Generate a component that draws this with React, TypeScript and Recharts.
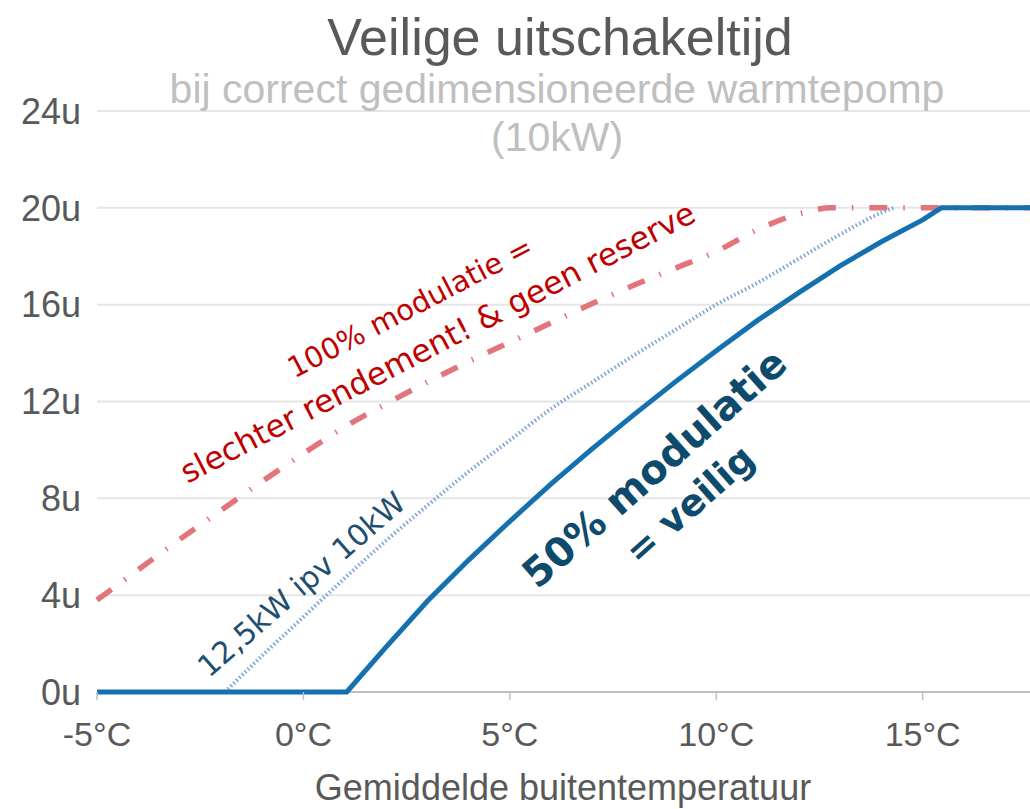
import React from 'react';
import { LineChart, Line, XAxis, YAxis, CartesianGrid, ReferenceDot } from 'recharts';

// 50% modulatie (veilig) – solid blue
const safeTemps = [-5, 1.05, 2, 3, 4, 5, 6, 7, 8, 9, 10, 11, 12, 13, 14, 15, 15.45, 17.6];
const safeHours = [0, 0, 1.85, 3.75, 5.45, 7.05, 8.6, 10.05, 11.45, 12.8, 14.1, 15.35, 16.5, 17.6, 18.6, 19.5, 20, 20];

// 100% modulatie – red dash-dot
const fullTemps = [-5, -4, -3, -2, -1, 0, 1, 2, 3, 4, 5, 6, 7, 8, 9, 10, 11, 12, 12.8, 17.6];
const fullHours = [3.8, 5.05, 6.3, 7.5, 8.7, 9.85, 10.95, 11.9, 12.8, 13.65, 14.45, 15.25, 16.05, 16.8, 17.5, 18.2, 19.1, 19.75, 20, 20];

// 12,5kW ipv 10kW – dotted light blue
const overTemps = [-1.9, -1, 0, 1, 2, 3, 4, 5, 6, 7, 8, 9, 10, 11, 12, 13, 14, 14.3];
const overHours = [0, 1.5, 3.1, 4.7, 6.25, 7.7, 9.1, 10.4, 11.7, 12.8, 13.9, 14.95, 16.0, 16.9, 17.9, 18.9, 19.8, 20];

// x-axis baseline (drawn beneath the series)
const baseTemps = [-5, 17.6];
const baseHours = [0, 0];

const xTicks = [-5, 0, 5, 10, 15];
const yTicks = [0, 4, 8, 12, 16, 20, 24];

const titleText = 'Veilige uitschakeltijd';
const subtitleLines = ['bij correct gedimensioneerde warmtepomp', '(10kW)'];
const xAxisTitle = 'Gemiddelde buitentemperatuur';

type Note = { text: string; x: number; y: number; angle: number; kind: 'red' | 'blue' | 'bold'; size: number };
const notes: Note[] = [
  { text: '100% modulatie =', x: 2.58, y: 15.9, angle: -27.5, kind: 'red', size: 29 },
  { text: 'slechter rendement! & geen reserve', x: 3.25, y: 14.45, angle: -27.3, kind: 'red', size: 31.5 },
  { text: '12,5kW ipv 10kW', x: -0.05, y: 4.45, angle: -41, kind: 'blue', size: 30 },
  { text: '50% modulatie', x: 8.5, y: 9.25, angle: -41.5, kind: 'bold', size: 40 },
  { text: '= veilig', x: 9.35, y: 7.75, angle: -41.5, kind: 'bold', size: 37 },
];

const noteStyle = {
  red: { fontFamily: 'DejaVu Sans', fill: '#C00000', fontWeight: 400 },
  blue: { fontFamily: 'DejaVu Sans', fill: '#1F4E6E', fontWeight: 400 },
  bold: { fontFamily: 'DejaVu Sans', fill: '#0E4A6B', fontWeight: 700 },
};

const toRows = (xs: number[], ys: number[]) => xs.map((t, i) => ({ t, h: ys[i] }));
const safeData = toRows(safeTemps, safeHours);
const fullData = toRows(fullTemps, fullHours);
const overData = toRows(overTemps, overHours);
const baseData = toRows(baseTemps, baseHours);

const makeShape = (n: Note) => (p: any) => {
  const st = noteStyle[n.kind];
  return (
    <text
      transform={`translate(${p.cx},${p.cy}) rotate(${n.angle})`}
      textAnchor="middle"
      dy="0.35em"
      fontFamily={st.fontFamily}
      fontSize={n.size}
      fontWeight={st.fontWeight}
      fill={st.fill}
    >
      {n.text}
    </text>
  );
};

export default function App() {
  return (
    <div style={{ position: 'absolute', left: 0, top: 0, width: 1030, height: 809, background: '#fff' }}>
      <LineChart
        width={1030}
        height={809}
        margin={{ top: 111, right: 0, bottom: 57, left: 0 }}
        style={{ fontFamily: 'Liberation Sans, Arial, sans-serif', overflow: 'visible' }}
      >
        <CartesianGrid horizontal vertical={false} stroke="#E6E6E6" strokeWidth={2} />
        <XAxis
          type="number"
          dataKey="t"
          domain={[-5, 17.6]}
          ticks={xTicks}
          height={60}
          tickFormatter={(v: number) => `${v}°C`}
          axisLine={false}
          tickLine={{ stroke: '#BFBFBF', strokeWidth: 1.5 }}
          tickSize={8}
          tickMargin={22}
          tick={{ fontSize: 34, fill: '#595959', fontFamily: 'Liberation Sans' }}
        />
        <YAxis
          type="number"
          domain={[0, 24]}
          ticks={yTicks}
          width={97}
          axisLine={false}
          tickLine={false}
          tickSize={0}
          tickMargin={16}
          tickFormatter={(v: number) => `${v}u`}
          tick={{ fontSize: 36, fill: '#595959', fontFamily: 'Liberation Sans' }}
        />
        <Line
          data={baseData}
          dataKey="h"
          type="linear"
          stroke="#BFBFBF"
          strokeWidth={2}
          dot={false}
          activeDot={false}
          isAnimationActive={false}
        />
        <Line
          data={fullData}
          dataKey="h"
          type="monotone"
          stroke="#E2747A"
          strokeWidth={5.5}
          strokeDasharray="18 16 1.5 16"
          dot={false}
          isAnimationActive={false}
        />
        <Line
          data={overData}
          dataKey="h"
          type="monotone"
          stroke="#7BA3D4"
          strokeWidth={4}
          strokeDasharray="1.5 2.5"
          dot={false}
          isAnimationActive={false}
        />
        <Line
          data={safeData}
          dataKey="h"
          type="linear"
          stroke="#1570B0"
          strokeWidth={5}
          dot={false}
          isAnimationActive={false}
        />
        {notes.map((n, i) => (
          <ReferenceDot key={i} x={n.x} y={n.y} r={0} ifOverflow="visible" shape={makeShape(n)} />
        ))}
      </LineChart>
      <svg
        width={1030}
        height={809}
        style={{ position: 'absolute', left: 0, top: 0, pointerEvents: 'none' }}
      >
        <text x={560} y={55} textAnchor="middle" fontFamily="Liberation Sans" fontSize={52} fill="#595959">
          {titleText}
        </text>
        <text x={557} y={103} textAnchor="middle" fontFamily="Liberation Sans" fontSize={41} fill="#BFBFBF">
          {subtitleLines[0]}
        </text>
        <text x={557} y={151} textAnchor="middle" fontFamily="Liberation Sans" fontSize={41} fill="#BFBFBF">
          {subtitleLines[1]}
        </text>
        <text x={563} y={800} textAnchor="middle" fontFamily="Liberation Sans" fontSize={36} fill="#595959">
          {xAxisTitle}
        </text>
      </svg>
    </div>
  );
}
